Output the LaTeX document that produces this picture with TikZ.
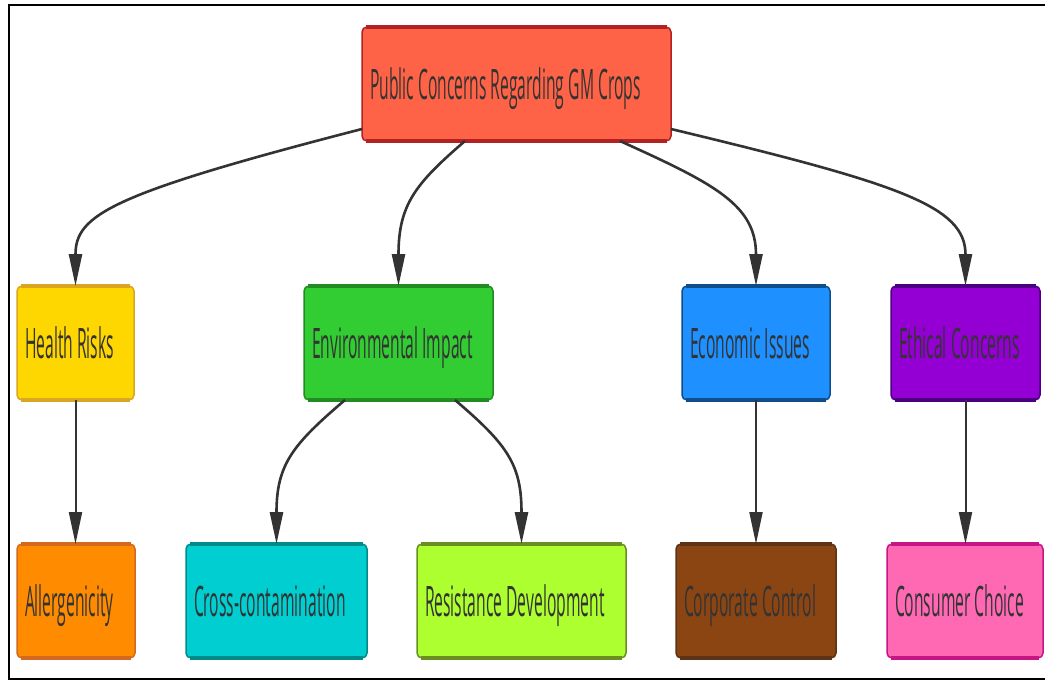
\documentclass[tikz,border=0pt]{standalone}
\usepackage{fontspec}
\usetikzlibrary{arrows.meta,calc}
\newfontfamily\condsans[FakeStretch=0.373]{Open Sans}

\definecolor{ink}{HTML}{333333}
\definecolor{rootfill}{HTML}{FF6347}\definecolor{rootline}{HTML}{B22222}
\definecolor{hrfill}{HTML}{FFD700}\definecolor{hrline}{HTML}{DAA520}
\definecolor{envfill}{HTML}{32CD32}\definecolor{envline}{HTML}{228B22}
\definecolor{ecofill}{HTML}{1E90FF}\definecolor{ecoline}{HTML}{104E8B}
\definecolor{ethfill}{HTML}{9400D3}\definecolor{ethline}{HTML}{4B0082}
\definecolor{allfill}{HTML}{FF8C00}\definecolor{allline}{HTML}{D2691E}
\definecolor{crossfill}{HTML}{00CED1}\definecolor{crossline}{HTML}{008B8B}
\definecolor{resfill}{HTML}{ADFF2F}\definecolor{resline}{HTML}{6B8E23}
\definecolor{corpfill}{HTML}{8B4513}\definecolor{corpline}{HTML}{5C3317}
\definecolor{consfill}{HTML}{FF69B4}\definecolor{consline}{HTML}{C71585}

\begin{document}
\begin{tikzpicture}[x=1pt,y=-1pt,
  concept/.style 2 args={fill=#1, draw=#2, line width=1.5pt, rounded corners=5pt,
    outer sep=0pt, anchor=north west, minimum height=114pt,
    inner xsep=8pt, inner ysep=0pt, align=left, text=ink,
    font=\condsans\fontsize{42}{44}\selectfont,
    execute at begin node={\spaceskip=4.1pt plus 1pt minus 1pt\relax},
    text height=30pt, text depth=0pt},
  band/.style={line width=3.5pt},
  link/.style={draw=ink, line width=2.6pt, -{Triangle[length=32pt,width=13pt]}},
  drop/.style={link, line width=2pt}]

\useasboundingbox (0,0) rectangle (1045,680);
\fill[white] (0,0) rectangle (1045,680);
\draw[line width=2pt, black] (8.5,5) rectangle (1055,678.5);

% top level
\node[concept={rootfill}{rootline}, text width=293pt] (root) at (362,27) {Public Concerns Regarding GM Crops};

% categories
\node[concept={hrfill}{hrline}, text width=101pt] (hr) at (17,286) {Health Risks};
\node[concept={envfill}{envline}, text width=173pt] (env) at (304,286) {Environmental Impact};
\node[concept={ecofill}{ecoline}, text width=132pt] (eco) at (682,286) {Economic Issues};
\node[concept={ethfill}{ethline}, text width=133pt] (eth) at (891,286) {Ethical Concerns};

% details
\node[concept={allfill}{allline}, text width=102pt] (all) at (17,544) {Allergenicity};
\node[concept={crossfill}{crossline}, text width=165pt] (cross) at (186,544) {Cross-contamination};
\node[concept={resfill}{resline}, text width=193pt] (res) at (417,544) {Resistance Development};
\node[concept={corpfill}{corpline}, text width=144pt] (corp) at (676,544) {Corporate Control};
\node[concept={consfill}{consline}, text width=140pt] (cons) at (887,544) {Consumer Choice};

% heavier top and bottom edges of each box
\foreach \n/\c in {root/rootline, hr/hrline, env/envline, eco/ecoline, eth/ethline,
                   all/allline, cross/crossline, res/resline, corp/corpline, cons/consline}{
  \draw[band, \c] ([xshift=4pt]\n.north west) -- ([xshift=-4pt]\n.north east);
  \draw[band, \c] ([xshift=4pt]\n.south west) -- ([xshift=-4pt]\n.south east);
}

% connectors
\draw[link] ($(root.south west)+(0,-12)$) .. controls +(-252,65) and +(0,-71) .. (hr.north);
\draw[link] ($(root.south west)+(103,0)$) .. controls +(-50,43) and +(0,-81) .. (env.north);
\draw[link] ($(root.south west)+(258,0)$) .. controls +(95,43) and +(0,-81) .. (eco.north);
\draw[link] ($(root.south east)+(0,-12)$) .. controls +(229,55) and +(0,-80) .. (eth.north);

\draw[link] ($(env.south west)+(41,0)$) .. controls +(-53,45) and +(0,-79) .. (cross.north);
\draw[link] ($(env.south west)+(151,0)$) .. controls +(53,45) and +(0,-79) .. (res.north);

\draw[drop] (hr.south) -- (hr.south |- all.north);
\draw[drop] (eco.south) -- (eco.south |- corp.north);
\draw[drop] (eth.south) -- (eth.south |- cons.north);
\end{tikzpicture}
\end{document}
